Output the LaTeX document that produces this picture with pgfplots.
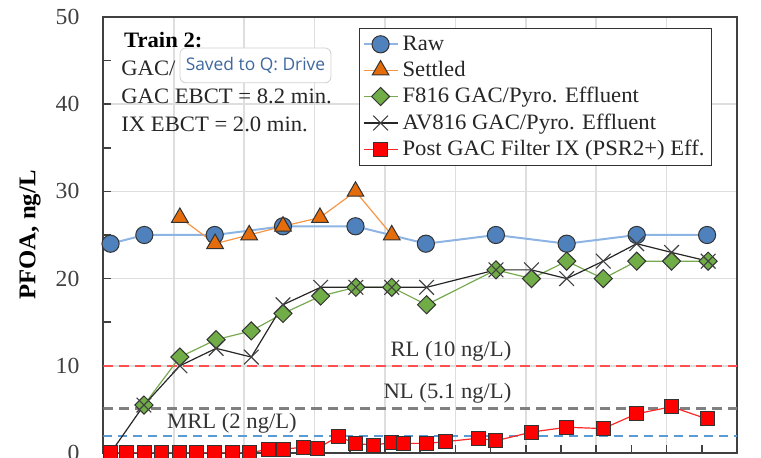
\documentclass[border=0pt]{standalone}
\usepackage{pgfplots}
\pgfplotsset{compat=1.18}
\usepackage{fontspec}
\setmainfont{Liberation Serif}[FakeStretch=1.03]
\newfontfamily\tipfont{Open Sans}

\definecolor{rawfill}{RGB}{79,129,189}
\definecolor{rawline}{RGB}{141,180,226}
\definecolor{setfill}{RGB}{228,108,10}
\definecolor{setline}{RGB}{247,150,70}
\definecolor{ffill}{RGB}{112,173,71}
\definecolor{fline}{RGB}{119,170,80}
\definecolor{rlred}{RGB}{255,80,80}
\definecolor{mrlblue}{RGB}{91,155,213}
\definecolor{tipblue}{RGB}{62,104,158}

\begin{document}
\begin{tikzpicture}[font=\fontsize{11}{13.5}\selectfont]
\useasboundingbox (-51.75pt,-2.5pt) rectangle (328.75pt,226.5pt);
\begin{axis}[
  scale only axis, width=316.75pt, height=218pt,
  xmin=0, xmax=18, ymin=0, ymax=50,
  xtick={0,2,...,18}, minor x tick num=1, xticklabels={},
  ytick={0,10,...,50}, minor y tick num=1,
  tick align=inside, tick pos=left,
  major tick length=4pt, minor tick length=4pt,
  xmajorgrids, ymajorgrids, grid style={black!13, line width=0.8pt},
  axis line style={black!75, line width=1pt},
  tick style={black!75, line width=0.8pt},
  /pgf/number format/assume math mode=true,
  yticklabel style={xshift=-8.5pt, text=black!75, font=\fontsize{11.5}{13.5}\selectfont},
  ylabel={\bfseries PFOA, ng/L},
  every axis y label/.style={at={(axis description cs:-0.116,0.5)}, rotate=90, anchor=center,
    font=\fontsize{12}{14}\selectfont},
  legend style={at={(0.403,0.975)}, anchor=north west, draw=black!80,
    line width=0.7pt, inner sep=1.5pt, text=black!85},
  legend cell align=left,
]
% reference levels
\addplot[forget plot, rlred, line width=1.1pt, dash pattern=on 5pt off 3pt] coordinates {(0,10)(18,10)};
\addplot[forget plot, black!50, line width=1.1pt, dash pattern=on 5pt off 3pt] coordinates {(0,5.1)(18,5.1)};
\addplot[forget plot, mrlblue, line width=1pt, dash pattern=on 4.5pt off 3pt] coordinates {(0,2)(18,2)};

% Raw
\addplot[rawline, line width=1pt, mark=*, mark size=4.3pt,
  mark options={fill=rawfill, draw=black!80, line width=0.5pt, solid}]
  coordinates {(0.2,24)(1.16,25)(3.16,25)(5.1,26)(7.16,26)(9.16,24)(11.15,25)(13.16,24)(15.15,25)(17.15,25)};
% Settled
\addplot[setline, line width=0.6pt, mark=triangle*, mark size=4.8pt,
  mark options={fill=setfill, draw=black!80, line width=0.5pt, solid}]
  coordinates {(2.17,27)(3.17,24)(4.14,25)(5.1,26)(6.15,27)(7.16,30)(8.19,25)};
% F816
\addplot[fline, line width=0.6pt, mark=square*, mark size=3.2pt,
  mark options={fill=ffill, draw=black!80, line width=0.5pt, solid, rotate=45}]
  coordinates {(1.15,5.5)(2.17,11)(3.2,13)(4.2,14)(5.1,16)(6.17,18)(7.17,19)(8.19,19)(9.18,17)(11.15,21)(12.16,20)(13.16,22)(14.2,20)(15.15,22)(16.14,22)(17.18,22)};
% AV816
\addplot[black!85, line width=0.6pt, mark=x, mark size=5.2pt,
  mark options={draw=black!75, line width=0.55pt, solid}]
  coordinates {(0.2,0)(1.15,5.5)(2.17,10)(3.2,12)(4.2,11)(5.1,17)(6.17,19)(7.17,19)(8.19,19)(9.18,19)(11.15,21)(12.16,21)(13.16,20)(14.2,22)(15.15,24)(16.14,23)(17.18,22)};
% Post GAC filter IX
\addplot[red!85, line width=0.6pt, mark=square*, mark size=3.5pt,
  mark options={fill=red, draw=black!80, line width=0.5pt, solid}]
  coordinates {(0.21,0)(0.66,0)(1.16,0)(1.65,0)(2.15,0)(2.65,0)(3.15,0)(3.66,0)(4.16,0)(4.68,0.45)(5.11,0.45)(5.68,0.65)(6.09,0.55)(6.67,1.9)(7.16,1.1)(7.66,0.9)(8.19,1.2)(8.52,1.1)(9.18,1.1)(9.73,1.3)(10.65,1.7)(11.15,1.4)(12.16,2.4)(13.16,2.95)(14.2,2.8)(15.15,4.5)(16.14,5.3)(17.15,3.9)};

\legend{Raw, Settled, F816 GAC/Pyro. Effluent, AV816 GAC/Pyro. Effluent, Post GAC Filter IX (PSR2+) Eff.}

\node[anchor=east, inner sep=0, text=black!80] at (axis cs:11.6,11.7) {RL (10 ng/L)};
\node[anchor=east, inner sep=0, text=black!80] at (axis cs:11.6,6.9) {NL (5.1 ng/L)};
\node[inner sep=0, text=black!80] at (axis cs:3.65,3.45) {MRL (2 ng/L)};
\node[inner sep=0] at (axis cs:16.38,46.55) {\bfseries PFOA};

\node[anchor=base west, inner sep=0] at (axis description cs:0.032,0.930) {\bfseries Train 2:};
\node[anchor=base west, inner sep=0, text=black!85] at (axis description cs:0.0276,0.866) {GAC/};
\node[anchor=base west, inner sep=0, text=black!85] at (axis description cs:0.0276,0.802) {GAC EBCT = 8.2 min.};
\node[anchor=base west, inner sep=0, text=black!85] at (axis description cs:0.0276,0.737) {IX EBCT = 2.0 min.};

\draw[draw=black!18, fill=white, rounded corners=3pt] (axis description cs:0.1208,0.929) rectangle (axis description cs:0.359,0.849);
\node[font=\tipfont\fontsize{8.7}{10}\selectfont, text=tipblue] at (axis description cs:0.2399,0.889) {Saved to Q: Drive};
\end{axis}
\end{tikzpicture}
\end{document}
